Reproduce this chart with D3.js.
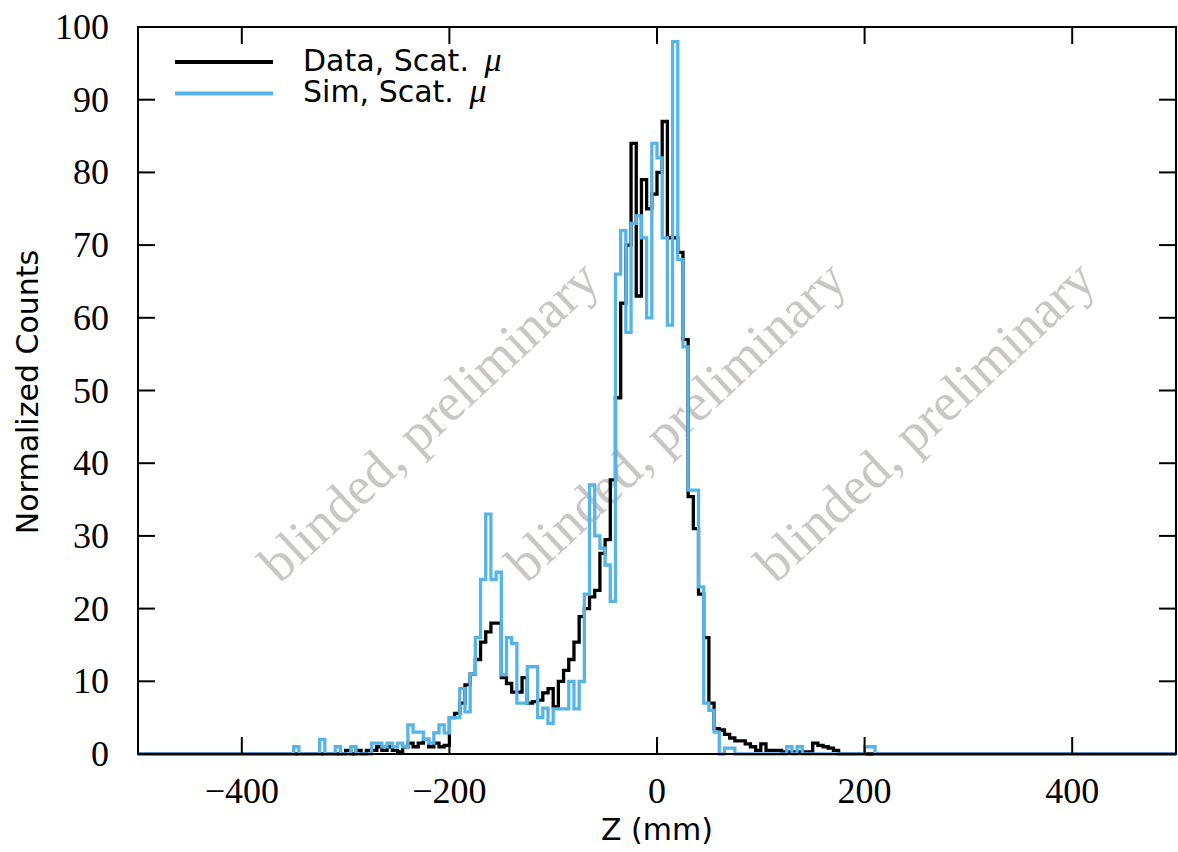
<!DOCTYPE html>
<html><head><meta charset="utf-8">
<script src="https://cdn.jsdelivr.net/npm/d3@7/dist/d3.min.js"></script>
<style>body{margin:0;background:#fff}</style>
</head><body><svg id="c" width="1178" height="852"></svg>
<script>
// Histogram bins: left edge of first bin (mm) and bin width (mm)
const binStart = -350;
const binWidth = 5;
// Bin contents from -350 mm to 215 mm (113 bins); everything else is 0
const dataCounts = [
  0,0,0,0,0,0,0,0,0,0,            // -350 .. -305
  0.5,0,0.5,0,0.5,0.5,1,0.5,1,0.5, // -300 .. -255
  0.3,1,1.5,1,1.5,2,1,1.5,1,1.2,   // -250 .. -205
  5,5.6,7,9.5,11,13,15.4,16.8,18,18, // -200 .. -155
  10.5,9.7,8.5,8.5,10.5,7,7.2,7.4,8.4,9, // -150 .. -105
  6.5,10,11.5,13,15.4,18.9,20,21.6,22.5,27.6, // -100 .. -55
  29.5,37.7,49,62,70,84,63,79,75,77, // -50 .. -5
  80,87,71,71,69,57,35.4,31,22,16,   // 0 .. 45
  7,3.5,3.3,2.7,2.2,1.8,1.8,1.4,1,0.5, // 50 .. 95
  1.4,0.5,0.5,0.5,0.3,0.3,0.3,0.3,0.3,0.3, // 100 .. 145
  1.5,1.2,1,0.8,0.5,0,0,0,0,0,       // 150 .. 195
  0,0,0                              // 200 .. 210
];
const simCounts = [
  1,0,0,0,0,2,0,0,1,0,               // -350 .. -305
  0,1,0,0,0,1.5,1.5,1,1.5,1,         // -300 .. -255
  1.5,1,4,3,3,2,1.5,2.9,4,2.9,       // -250 .. -205
  5,5,9,5.8,11,16,24,33,24,25,       // -200 .. -155
  10.9,16,15.2,7,7,12,12,5,6.3,4.2,  // -150 .. -105
  6.2,6.2,6.2,10,6.2,10,22,37,30,28.3, // -100 .. -55
  26,21,66,72,58,73,74,71,60,84,     // -50 .. -5
  82,71,59,98,68,56,36.3,36.3,23,7,  // 0 .. 45
  6,3,0,0.8,0.8,0,0,0,0,0,           // 50 .. 95
  0,0,0,0,0,1,0,1,0,0,               // 100 .. 145
  0,0,0,0,0,0,0,0,0,0,               // 150 .. 195
  1,1,0                              // 200 .. 210
];
const xTicks = [-400, -200, 0, 200, 400];
const yTicks = [0, 10, 20, 30, 40, 50, 60, 70, 80, 90, 100];
const seriesNames = ["Data, Scat.", "Sim, Scat."];
const seriesColors = ["#000000", "#56b4e9"];
const watermarkText = "blinded, preliminary";
const watermarkZ = [-220, 18, 258];

const svg = d3.select("#c");
const L = 138, R = 1176, T = 27, B = 754;
const x = d3.scaleLinear().domain([-500, 500]).range([L, R]);
const y = d3.scaleLinear().domain([0, 100]).range([B, T]);

// watermarks
watermarkZ.forEach(z => {
  svg.append("text")
    .attr("transform", `translate(${x(z)},${y(45.8)}) rotate(-43)`)
    .attr("text-anchor", "middle").attr("dominant-baseline", "central")
    .attr("font-family", "Liberation Serif").attr("font-size", 54)
    .attr("fill", "#cac6c4").text(watermarkText);
});

function histPoints(counts) {
  const pts = [[-500, 0]];
  counts.forEach((v, i) => pts.push([binStart + i * binWidth, v]));
  pts.push([binStart + counts.length * binWidth, 0]);
  pts.push([500, 0]);
  return pts;
}
const line = d3.line().x(d => x(d[0])).y(d => y(d[1])).curve(d3.curveStepAfter);

[dataCounts, simCounts].forEach((c, k) => {
  svg.append("path").attr("d", line(histPoints(c)))
    .attr("fill", "none").attr("stroke", seriesColors[k])
    .attr("stroke-width", 3.3).attr("stroke-linejoin", "miter");
});

// frame
svg.append("rect").attr("x", L).attr("y", T).attr("width", R - L).attr("height", B - T)
  .attr("fill", "none").attr("stroke", "#000").attr("stroke-width", 2);

const tl = 17;
// x ticks
xTicks.forEach(t => {
  svg.append("line").attr("x1", x(t)).attr("x2", x(t)).attr("y1", B).attr("y2", B - tl).attr("stroke", "#000").attr("stroke-width", 2);
  svg.append("line").attr("x1", x(t)).attr("x2", x(t)).attr("y1", T).attr("y2", T + tl).attr("stroke", "#000").attr("stroke-width", 2);
  svg.append("text").attr("x", x(t)).attr("y", 803).attr("text-anchor", "middle")
    .attr("font-family", "Liberation Serif").attr("font-size", 36)
    .text(t < 0 ? "\u2212" + Math.abs(t) : String(t));
});
// y ticks
yTicks.forEach(t => {
  svg.append("line").attr("x1", L).attr("x2", L + tl).attr("y1", y(t)).attr("y2", y(t)).attr("stroke", "#000").attr("stroke-width", 2);
  svg.append("line").attr("x1", R).attr("x2", R - tl).attr("y1", y(t)).attr("y2", y(t)).attr("stroke", "#000").attr("stroke-width", 2);
  svg.append("text").attr("x", 109).attr("y", y(t)).attr("text-anchor", "end")
    .attr("dominant-baseline", "central")
    .attr("font-family", "Liberation Serif").attr("font-size", 36).text(t);
});

// axis labels
svg.append("text").attr("x", x(0)).attr("y", 840).attr("text-anchor", "middle")
  .attr("font-family", "DejaVu Sans").attr("font-size", 30).text("Z (mm)");
svg.append("text").attr("transform", "translate(27,392) rotate(-90)")
  .attr("text-anchor", "middle").attr("dominant-baseline", "central")
  .attr("font-family", "DejaVu Sans").attr("font-size", 30).text("Normalized Counts");

// legend
seriesNames.forEach((n, i) => {
  const ly = 62 + i * 31.5;
  svg.append("line").attr("x1", 175).attr("x2", 273).attr("y1", ly).attr("y2", ly)
    .attr("stroke", seriesColors[i]).attr("stroke-width", 4);
  const t = svg.append("text").attr("x", 303).attr("y", ly + 8.5)
    .attr("font-family", "DejaVu Sans").attr("font-size", 30);
  t.append("tspan").text(n + " ");
  t.append("tspan").attr("font-family", "Liberation Serif").attr("font-style", "italic")
    .attr("font-size", 34).attr("dx", 6).text("\u03bc");
});
</script></body></html>
